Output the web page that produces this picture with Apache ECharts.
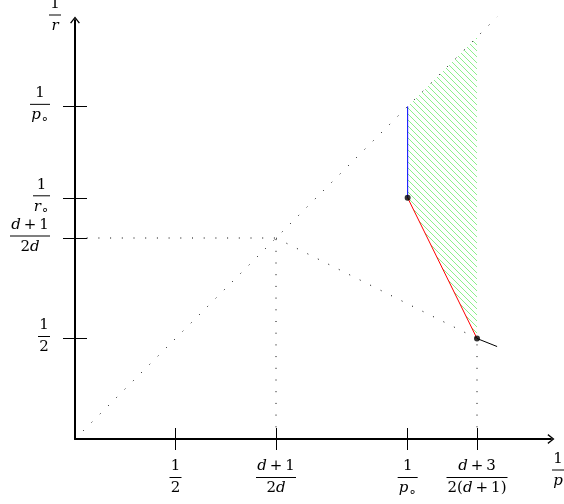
<!DOCTYPE html>
<html><head><meta charset="utf-8">
<script src="https://cdn.jsdelivr.net/npm/echarts@6/dist/echarts.min.js"></script>
<style>html,body{margin:0;padding:0;background:#fff}#c{width:564px;height:504px}</style>
</head><body><div id="c"></div>
<script>
// ---- data ----
const xTickValues = [0.5, 1.0, 1.655, 2.0];
const xTickLabels = [['1', '2'], ['d+1', '2d'], ['1', 'p∘'], ['d+3', '2(d+1)']];
const yTickValues = [0.5, 1.0, 1.2, 1.655];
const yTickLabels = [['1', '2'], ['d+1', '2d'], ['1', 'r∘'], ['1', 'p∘']];
const xName = ['1', 'p'];
const yName = ['1', 'r'];
const diagonal = [[0, 0], [2.1, 2.1]];
const dottedH = [[0, 1], [1, 1]];
const dottedV1 = [[1, 0], [1, 1]];
const dottedSlope = [[1, 1], [2, 0.5]];
const dottedV2 = [[2, 0], [2, 0.5]];
const blueSeg = [[1.655, 1.2], [1.655, 1.655]];
const redSeg = [[1.655, 1.2], [2, 0.5]];
const blackSeg = [[2, 0.5], [2.1, 0.46]];
const points = [[1.655, 1.2], [2, 0.5]];
const hatchRegion = [[1.655, 1.2], [1.655, 1.655], [2, 2], [2, 0.5]];

// ---- layout / style ----
const SCALE = 201, X0 = 75, Y0 = 439, XEND = 551, YEND = 20;
const xMax = (XEND - X0) / SCALE;
const yMax = (Y0 - YEND) / SCALE;
const FONT = 'DejaVu Serif';
const FS = 15;

const rich = {
  n: { fontFamily: FONT, fontSize: FS, lineHeight: 17, color: '#000', align: 'center' },
  i: { fontFamily: FONT, fontSize: FS, fontStyle: 'italic', lineHeight: 17, color: '#000', align: 'center' },
  o: { fontFamily: FONT, fontSize: FS, lineHeight: 17, color: '#000', align: 'center', padding: [0, 3, 0, 3] },
  s: { fontFamily: 'DejaVu Sans', fontSize: 13, lineHeight: 17, color: '#000', align: 'center', padding: [8, 0, 0, 0] }
};
const mctx = document.createElement('canvas').getContext('2d');
function styleOf(ch) {
  if (/[a-z]/.test(ch)) return 'i';
  if (ch === '+') return 'o';
  if (ch === '∘') return 's';
  return 'n';
}
function measure(str) {
  let w = 0;
  for (const ch of str) {
    const st = rich[styleOf(ch)];
    mctx.font = (st.fontStyle ? 'italic ' : '') + st.fontSize + 'px ' + st.fontFamily;
    w += mctx.measureText(ch).width;
    if (st.padding) w += st.padding[1] + st.padding[3];
  }
  return w;
}
let barCount = 0;
function frac(pair) {
  const w = Math.round(Math.max(measure(pair[0]), measure(pair[1])) + 2);
  const key = 'b' + (barCount++);
  rich[key] = { width: w, height: 1, lineHeight: 5, backgroundColor: '#000', align: 'center' };
  const line = s => Array.from(s).map(ch => '{' + styleOf(ch) + '|' + ch + '}').join('');
  return line(pair[0]) + '\n{' + key + '|}\n' + line(pair[1]);
}
const xLabelText = xTickLabels.map(frac);
const yLabelText = yTickLabels.map(frac);
const xNameText = frac(xName);
const yNameText = frac(yName);
function lookup(values, texts, v) {
  let best = 0;
  values.forEach((t, k) => { if (Math.abs(t - v) < Math.abs(values[best] - v)) best = k; });
  return texts[best];
}

// hatch pattern
const tile = document.createElement('canvas');
tile.width = 6; tile.height = 6;
const tctx = tile.getContext('2d');
tctx.strokeStyle = '#8cf08c';
tctx.lineWidth = 1;
for (let k = -1; k <= 1; k++) {
  tctx.beginPath();
  tctx.moveTo(k * 6 - 1, -1);
  tctx.lineTo(k * 6 + 7, 7);
  tctx.stroke();
}
const hatchPattern = { image: tile, repeat: 'repeat' };

const arrowPath = 'path://M0,7 L5.5,0 L11,7 L9.8,7.8 L5.5,2.2 L1.2,7.8 Z';
const dotted = { type: [1, 10.7], width: 1, color: '#000' };

function lineSeries(data, lineStyle) {
  return { type: 'line', data, symbol: 'none', clip: false, silent: true, lineStyle, z: 3, animation: false };
}

const chart = echarts.init(document.getElementById('c'), null, { renderer: 'canvas' });
chart.setOption({
  animation: false,
  backgroundColor: '#fff',
  textStyle: { fontFamily: FONT },
  grid: { left: X0, right: 564 - XEND, top: YEND, bottom: 504 - Y0, outerBoundsMode: 'none', containLabel: false },
  xAxis: [
    {
      type: 'value', min: 0, max: xMax, position: 'bottom',
      splitLine: { show: false },
      axisLine: { show: true, onZero: false, lineStyle: { color: '#000', width: 2 }, symbol: ['none', arrowPath], symbolSize: [11, 7] },
      axisTick: { show: true, inside: false, length: 11, customValues: xTickValues, lineStyle: { color: '#000', width: 1 } },
      axisLabel: { show: true, margin: 19, fontFamily: FONT, customValues: xTickValues, formatter: v => lookup(xTickValues, xLabelText, v), rich, color: '#000' },
      name: xNameText, nameLocation: 'end', nameGap: 1,
      nameTextStyle: { align: 'left', verticalAlign: 'middle', fontFamily: FONT, padding: [62, 0, 0, 0], rich }
    },
    {
      type: 'value', min: 0, max: xMax, position: 'bottom',
      splitLine: { show: false },
      axisLine: { show: false, onZero: false },
      axisTick: { show: true, inside: true, length: 11, customValues: xTickValues, lineStyle: { color: '#000', width: 1 } },
      axisLabel: { show: false }
    }
  ],
  yAxis: [
    {
      type: 'value', min: 0, max: yMax, position: 'left',
      splitLine: { show: false },
      axisLine: { show: true, onZero: false, lineStyle: { color: '#000', width: 2 }, symbol: ['none', arrowPath], symbolSize: [11, 7] },
      axisTick: { show: true, inside: false, length: 12, customValues: yTickValues, lineStyle: { color: '#000', width: 1 } },
      axisLabel: { show: true, margin: 25, align: 'right', verticalAlign: 'middle', fontFamily: FONT, padding: [0, 0, 4, 0], customValues: yTickValues, formatter: v => lookup(yTickValues, yLabelText, v), rich, color: '#000' },
      name: yNameText, nameLocation: 'end', nameGap: 5,
      nameTextStyle: { align: 'right', verticalAlign: 'middle', fontFamily: FONT, padding: [0, 14, 0, 0], rich }
    },
    {
      type: 'value', min: 0, max: yMax, position: 'left',
      splitLine: { show: false },
      axisLine: { show: false, onZero: false },
      axisTick: { show: true, inside: true, length: 12, customValues: yTickValues, lineStyle: { color: '#000', width: 1 } },
      axisLabel: { show: false }
    }
  ],
  series: [
    {
      type: 'custom', data: hatchRegion, silent: true, clip: false, z: 1,
      renderItem: function (params, api) {
        if (params.dataIndex !== 0) return null;
        const pts = hatchRegion.map(p => api.coord(p));
        return { type: 'polygon', shape: { points: pts }, style: { fill: hatchPattern, stroke: null } };
      }
    },
    lineSeries(diagonal, dotted),
    lineSeries(dottedH, dotted),
    lineSeries(dottedV1, dotted),
    lineSeries(dottedSlope, dotted),
    lineSeries(dottedV2, dotted),
    lineSeries(blueSeg, { color: '#0000ff', width: 1 }),
    lineSeries(redSeg, { color: '#ff0000', width: 1 }),
    lineSeries(blackSeg, { color: '#000', width: 1 }),
    { type: 'scatter', data: points, symbol: 'circle', symbolSize: 6, itemStyle: { color: '#000' }, z: 5, silent: true }
  ]
});
</script>
</body></html>
